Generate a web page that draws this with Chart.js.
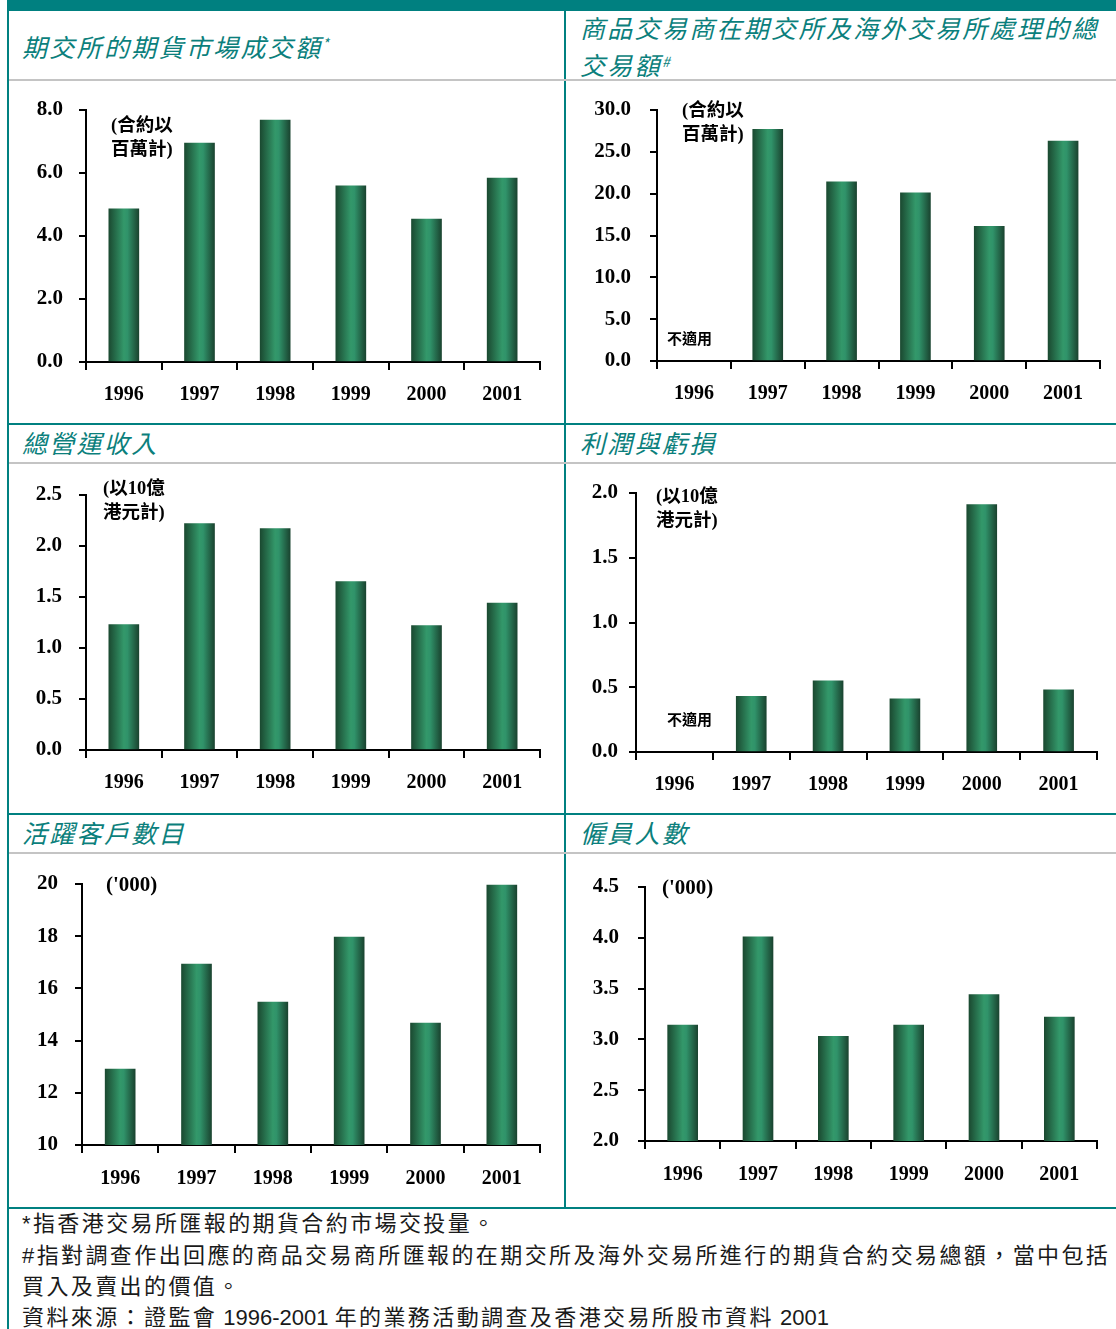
<!DOCTYPE html>
<html>
<head>
<meta charset="utf-8">
<script src="https://cdn.jsdelivr.net/npm/chart.js@4.4.0/dist/chart.umd.min.js"></script>
<style>
  html, body { margin: 0; padding: 0; background: #fff; }
  body { width: 1116px; height: 1329px; position: relative; overflow: hidden; }
  .teal { position: absolute; background: #008080; }
  .gray { position: absolute; background: #c4c4c4; height: 2px; }
  .title {
    position: absolute; color: #0b7f7c; font-style: italic;
    font-family: "Noto Sans CJK TC", "Noto Sans CJK SC", sans-serif;
    font-size: 25px; letter-spacing: 2.3px; line-height: 34px; white-space: nowrap;
  }
  .title sup { font-size: 14px; vertical-align: 8px; }
  canvas { position: absolute; }
  .note {
    position: absolute; font-weight: bold; color: #000;
    font-family: "Liberation Serif", "Noto Sans CJK TC", serif;
    font-size: 18.5px; line-height: 24px; white-space: nowrap;
  }
  .na { position: absolute; font-family: "Noto Sans CJK TC", sans-serif; font-weight: bold; font-size: 15px; color: #000; }
  .foot {
    position: absolute; left: 22px; color: #1a1a1a;
    font-family: "Liberation Sans", "Noto Sans CJK TC", sans-serif;
    font-size: 22px; letter-spacing: 2.4px; line-height: 31px; white-space: nowrap;
  }
  .foot .lat { letter-spacing: 0; }
</style>
</head>
<body>
<!-- frame -->
<div class="teal" style="left:7px;top:0;width:1109px;height:11px"></div>
<div class="teal" style="left:7px;top:0;width:2px;height:1329px"></div>
<div class="teal" style="left:564px;top:0;width:2px;height:1209px"></div>
<div class="teal" style="left:7px;top:423px;width:1109px;height:2px"></div>
<div class="teal" style="left:7px;top:813px;width:1109px;height:2px"></div>
<div class="teal" style="left:7px;top:1207px;width:1109px;height:2px"></div>
<div class="gray" style="left:9px;top:79px;width:1107px"></div>
<div class="gray" style="left:9px;top:462px;width:1107px"></div>
<div class="gray" style="left:9px;top:852px;width:1107px"></div>

<!-- panel titles -->
<div class="title" style="left:22px;top:26px">期交所的期貨市場成交額<sup>*</sup></div>
<div class="title" style="left:580px;top:10px">商品交易商在期交所及海外交易所處理的總<br>交易額<sup>#</sup></div>
<div class="title" style="left:22px;top:425px">總營運收入</div>
<div class="title" style="left:580px;top:425px">利潤與虧損</div>
<div class="title" style="left:22px;top:815px">活躍客戶數目</div>
<div class="title" style="left:580px;top:815px">僱員人數</div>

<canvas id="c1"></canvas>
<canvas id="c2"></canvas>
<canvas id="c3"></canvas>
<canvas id="c4"></canvas>
<canvas id="c5"></canvas>
<canvas id="c6"></canvas>

<!-- unit notes -->
<div class="note" style="left:111px;top:113px">(合約以<br>百萬計)</div>
<div class="note" style="left:682px;top:98px">(合約以<br>百萬計)</div>
<div class="na" style="left:667px;top:327px">不適用</div>
<div class="note" style="left:103px;top:476px">(以10億<br>港元計)</div>
<div class="note" style="left:656px;top:484px">(以10億<br>港元計)</div>
<div class="na" style="left:667px;top:708px">不適用</div>
<div class="note" style="left:106px;top:872px;font-size:21px">('000)</div>
<div class="note" style="left:662px;top:875px;font-size:21px">('000)</div>

<!-- footnotes -->
<div class="foot" style="top:1208px">*指香港交易所匯報的期貨合約市場交投量。</div>
<div class="foot" style="top:1240px">#指對調查作出回應的商品交易商所匯報的在期交所及海外交易所進行的期貨合約交易總額，當中包括</div>
<div class="foot" style="top:1271px">買入及賣出的價值。</div>
<div class="foot" style="top:1302px">資料來源：證監會<span class="lat"> 1996-2001 </span>年的業務活動調查及香港交易所股市資料<span class="lat"> 2001</span></div>

<script>
// ── Data ─────────────────────────────────────────────────────────────────────
const years = ['1996', '1997', '1998', '1999', '2000', '2001'];

const futuresTurnover = [4.86, 6.95, 7.68, 5.59, 4.54, 5.84];       // 百萬張合約
const dealerTurnover  = [null, 27.7, 21.4, 20.1, 16.1, 26.3];       // 百萬張合約
const totalRevenue    = [1.23, 2.22, 2.17, 1.65, 1.22, 1.44];       // 10億港元
const profitLoss      = [null, 0.43, 0.55, 0.41, 1.91, 0.48];       // 10億港元
const activeClients   = [12.91, 16.93, 15.48, 17.97, 14.67, 19.96]; // '000
const employees       = [3.14, 4.01, 3.03, 3.14, 3.44, 3.22];       // '000

// ── Helpers ──────────────────────────────────────────────────────────────────
const BAR_W = 30;
const TOP_PAD = 32; // keeps Chart.js from pushing the plot down for the top label

function barFill(c) {
    const xs = c.chart.scales.x;
    if (!xs || c.dataIndex == null) return '#2a8a5c';
    const cx = xs.getPixelForValue(c.dataIndex);
    if (!isFinite(cx)) return '#2a8a5c';
    const g = c.chart.ctx.createLinearGradient(cx - BAR_W / 2, 0, cx + BAR_W / 2, 0);
    g.addColorStop(0,    '#1b4a31');
    g.addColorStop(0.5,  '#33986a');
    g.addColorStop(0.62, '#30936a');
    g.addColorStop(1,    '#1a4430');
    return g;
}

// axis: y-axis x, top y, bottom y, right x; box: canvas left/width/bottom
function drawChart(id, values, axis, box, yMin, yMax, step, decimals, yPad, xPad) {
    const canvas = document.getElementById(id);
    const top = axis.top - TOP_PAD;
    const height = box.bottom - top;
    canvas.style.left = box.left + 'px';
    canvas.style.top  = top + 'px';
    canvas.width  = box.width;
    canvas.height = height;
    canvas.style.width  = box.width + 'px';
    canvas.style.height = height + 'px';

    const yAxisW = axis.x - box.left;
    const xAxisH = box.bottom - axis.bottom;

    new Chart(canvas, {
        type: 'bar',
        data: {
            labels: years,
            datasets: [{
                data: values,
                backgroundColor: barFill,
                borderWidth: 0,
                barThickness: BAR_W
            }]
        },
        options: {
            responsive: false,
            animation: false,
            events: [],
            layout: {
                padding: { top: TOP_PAD, right: box.left + box.width - axis.right, left: 0, bottom: 0 }
            },
            plugins: { legend: { display: false }, tooltip: { enabled: false } },
            scales: {
                x: {
                    type: 'category',
                    offset: true,
                    grid: { offset: true, drawOnChartArea: false, drawTicks: true, tickLength: 8, color: '#000', lineWidth: 2 },
                    border: { display: true, color: '#000', width: 2 },
                    ticks: {
                        color: '#000', padding: xPad, maxRotation: 0,
                        font: { family: '"Liberation Serif", serif', size: 20, weight: 'bold' }
                    },
                    afterFit: (s) => { s.height = xAxisH; }
                },
                y: {
                    min: yMin,
                    max: yMax,
                    grid: { drawOnChartArea: false, drawTicks: true, tickLength: 7, color: '#000', lineWidth: 2 },
                    border: { display: true, color: '#000', width: 2 },
                    ticks: {
                        stepSize: step, color: '#000', padding: yPad,
                        font: { family: '"Liberation Serif", serif', size: 21, weight: 'bold' },
                        callback: (v) => Number(v).toFixed(decimals)
                    },
                    afterFit: (s) => { s.width = yAxisW; }
                }
            }
        }
    });
}

// ── Charts ───────────────────────────────────────────────────────────────────
drawChart('c1', futuresTurnover,
    { x: 86, top: 110, bottom: 362, right: 540 },
    { left: 10, width: 552, bottom: 418 }, 0, 8, 2, 1, 16, 13);

drawChart('c2', dealerTurnover,
    { x: 657, top: 110, bottom: 361, right: 1100 },
    { left: 568, width: 546, bottom: 418 }, 0, 30, 5, 1, 19, 13);

drawChart('c3', totalRevenue,
    { x: 86, top: 495, bottom: 750, right: 540 },
    { left: 10, width: 552, bottom: 810 }, 0, 2.5, 0.5, 1, 17, 13);

drawChart('c4', profitLoss,
    { x: 636, top: 493, bottom: 752, right: 1097 },
    { left: 568, width: 546, bottom: 810 }, 0, 2, 0.5, 1, 11, 13);

drawChart('c5', activeClients,
    { x: 82, top: 884, bottom: 1145, right: 540 },
    { left: 10, width: 552, bottom: 1205 }, 10, 20, 2, 0, 17, 14);

drawChart('c6', employees,
    { x: 645, top: 887, bottom: 1141, right: 1097 },
    { left: 568, width: 546, bottom: 1205 }, 2, 4.5, 0.5, 1, 19, 14);
</script>
</body>
</html>
